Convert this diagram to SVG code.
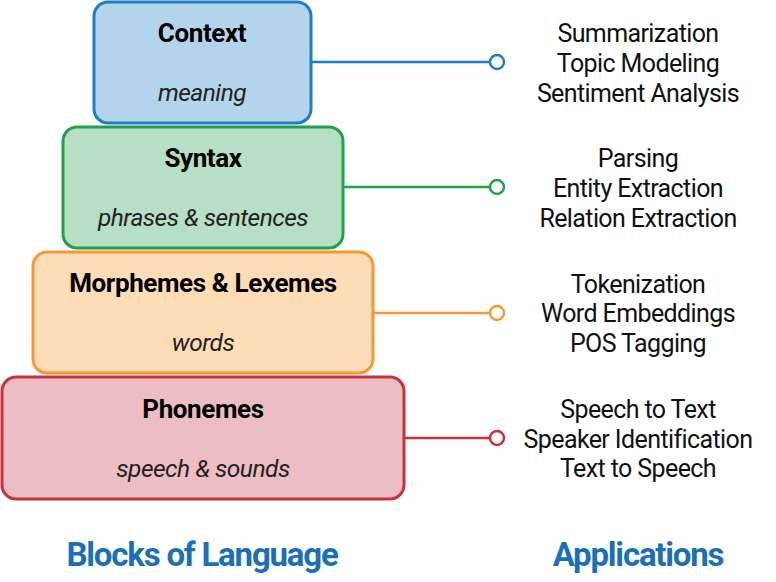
<svg xmlns="http://www.w3.org/2000/svg" width="776" height="582" viewBox="0 0 776 582">
<style>
.t{font-family:Roboto,"Liberation Sans",sans-serif;font-size:26px;font-weight:bold;fill:#000;text-anchor:middle;letter-spacing:-0.4px}
.s{font-family:Roboto,"Liberation Sans",sans-serif;font-size:24.5px;font-style:italic;fill:#222;text-anchor:middle;letter-spacing:-0.5px}
.a{font-family:Roboto,"Liberation Sans",sans-serif;font-size:25px;fill:#111;text-anchor:middle;letter-spacing:-0.6px}
.h{font-family:Roboto,"Liberation Sans",sans-serif;font-size:33px;font-weight:bold;fill:#1a6fb8;text-anchor:middle;letter-spacing:-1.2px}
.c{fill:#fff;stroke-width:2.5}
</style>
<g id="connectors" fill="none" stroke-width="2.5">
<line x1="311" y1="62" x2="490" y2="62" stroke="#1f7cc6"/>
<circle class="c" cx="497" cy="62" r="7" stroke="#1f7cc6"/>
<line x1="343" y1="187" x2="490" y2="187" stroke="#22a04a"/>
<circle class="c" cx="497" cy="187" r="7" stroke="#22a04a"/>
<line x1="373" y1="313" x2="490" y2="313" stroke="#f39a35"/>
<circle class="c" cx="497" cy="313" r="7" stroke="#f39a35"/>
<line x1="404" y1="438" x2="490" y2="438" stroke="#c7323d"/>
<circle class="c" cx="497" cy="438" r="7" stroke="#c7323d"/>
</g>
<g id="context">
<rect x="94" y="2" width="217" height="121" rx="14" fill="#b4d4ec" stroke="#1f7cc6" stroke-width="3"/>
<text class="t" x="202" y="42">Context</text>
<text class="s" x="202" y="101">meaning</text>
</g>
<g id="syntax">
<rect x="63" y="127" width="280" height="121" rx="14" fill="#b6dfc6" stroke="#22a04a" stroke-width="3"/>
<text class="t" x="203" y="167">Syntax</text>
<text class="s" x="203" y="226">phrases &amp; sentences</text>
</g>
<g id="morphemes">
<rect x="33" y="252" width="340" height="121" rx="14" fill="#fddcb6" stroke="#f39a35" stroke-width="3"/>
<text class="t" x="203" y="292">Morphemes &amp; Lexemes</text>
<text class="s" x="203" y="351">words</text>
</g>
<g id="phonemes">
<rect x="2" y="377" width="402" height="122" rx="14" fill="#ecbdc2" stroke="#c7323d" stroke-width="3"/>
<text class="t" x="203" y="418">Phonemes</text>
<text class="s" x="203" y="477">speech &amp; sounds</text>
</g>
<g id="apps-context">
<text class="a" x="638" y="42">Summarization</text>
<text class="a" x="638" y="72">Topic Modeling</text>
<text class="a" x="638" y="102">Sentiment Analysis</text>
</g>
<g id="apps-syntax">
<text class="a" x="638" y="167">Parsing</text>
<text class="a" x="638" y="197">Entity Extraction</text>
<text class="a" x="638" y="227">Relation Extraction</text>
</g>
<g id="apps-morphemes">
<text class="a" x="638" y="293">Tokenization</text>
<text class="a" x="638" y="322">Word Embeddings</text>
<text class="a" x="638" y="352">POS Tagging</text>
</g>
<g id="apps-phonemes">
<text class="a" x="638" y="418">Speech to Text</text>
<text class="a" x="638" y="448">Speaker Identification</text>
<text class="a" x="638" y="477">Text to Speech</text>
</g>
<g id="headers">
<text class="h" x="202" y="566">Blocks of Language</text>
<text class="h" x="638" y="566">Applications</text>
</g>
</svg>
